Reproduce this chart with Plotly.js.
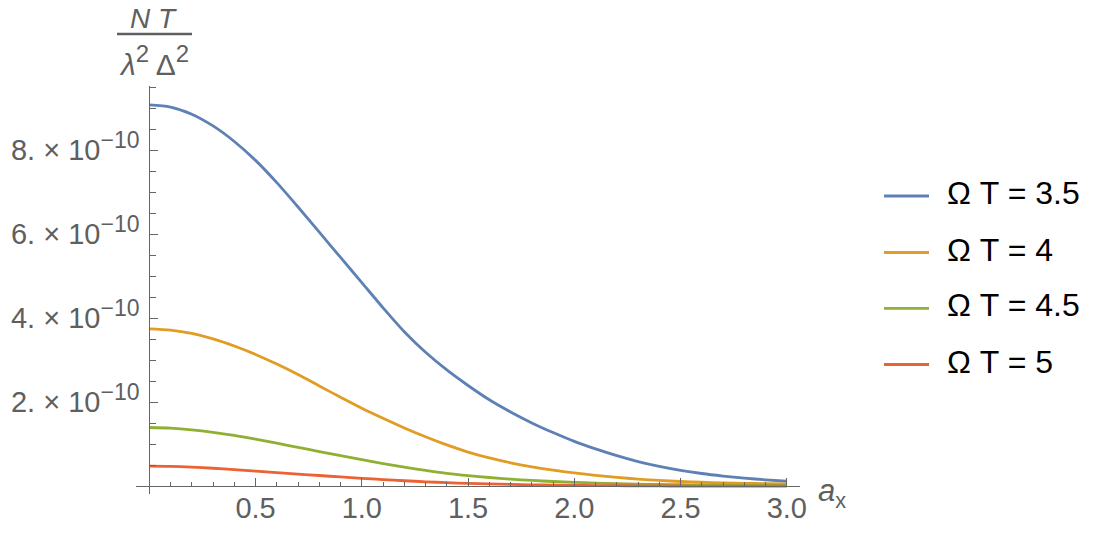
<!DOCTYPE html>
<html>
<head>
<meta charset="utf-8">
<script src="https://cdn.plot.ly/plotly-3.0.1.min.js"></script>
<style>
html,body{margin:0;padding:0;background:#fff;}
#chart{width:1095px;height:540px;}
</style>
</head>
<body>
<div id="chart"></div>
<script>
// ---- data ----
const ax = [0,0.1,0.2,0.3,0.4,0.5,0.6,0.7,0.8,0.9,1.0,1.1,1.2,1.3,1.4,1.5,1.6,1.7,1.8,1.9,2.0,2.1,2.2,2.3,2.4,2.5,2.6,2.7,2.8,2.9,3.0];

const NT_35 = [9.08e-10,9.03e-10,8.86e-10,8.58e-10,8.21e-10,7.76e-10,7.23e-10,6.65e-10,6.05e-10,5.45e-10,4.85e-10,4.25e-10,3.68e-10,3.19e-10,2.77e-10,2.40e-10,2.06e-10,1.77e-10,1.51e-10,1.28e-10,1.07e-10,0.89e-10,0.73e-10,0.59e-10,0.475e-10,0.38e-10,0.305e-10,0.245e-10,0.195e-10,0.155e-10,0.12e-10];
const NT_4  = [3.75e-10,3.72e-10,3.64e-10,3.51e-10,3.34e-10,3.14e-10,2.91e-10,2.66e-10,2.39e-10,2.12e-10,1.86e-10,1.62e-10,1.39e-10,1.18e-10,0.985e-10,0.815e-10,0.675e-10,0.56e-10,0.465e-10,0.385e-10,0.32e-10,0.262e-10,0.213e-10,0.172e-10,0.14e-10,0.115e-10,0.097e-10,0.083e-10,0.072e-10,0.063e-10,0.056e-10];
const NT_45 = [1.40e-10,1.385e-10,1.345e-10,1.285e-10,1.21e-10,1.122e-10,1.027e-10,0.927e-10,0.827e-10,0.729e-10,0.635e-10,0.54e-10,0.455e-10,0.38e-10,0.31e-10,0.255e-10,0.21e-10,0.17e-10,0.14e-10,0.115e-10,0.095e-10,0.078e-10,0.064e-10,0.053e-10,0.044e-10,0.037e-10,0.031e-10,0.026e-10,0.022e-10,0.019e-10,0.016e-10];
const NT_5  = [0.48e-10,0.475e-10,0.457e-10,0.43e-10,0.397e-10,0.362e-10,0.327e-10,0.292e-10,0.257e-10,0.223e-10,0.191e-10,0.161e-10,0.133e-10,0.108e-10,0.087e-10,0.07e-10,0.056e-10,0.045e-10,0.036e-10,0.029e-10,0.023e-10,0.018e-10,0.0145e-10,0.0115e-10,0.009e-10,0.007e-10,0.0055e-10,0.0045e-10,0.0035e-10,0.003e-10,0.0025e-10];

const seriesNames = ["\u03A9 T = 3.5","\u03A9 T = 4","\u03A9 T = 4.5","\u03A9 T = 5"];
const seriesColors = ["#5E81B5","#E19C24","#8FB032","#EB6235"];
const seriesValues = [NT_35, NT_4, NT_45, NT_5];

const xTickVals = [0.5,1.0,1.5,2.0,2.5,3.0];
const xTickText = ["0.5","1.0","1.5","2.0","2.5","3.0"];
const yTickVals = [2e-10,4e-10,6e-10,8e-10];
const yTickText = ["2.","4.","6.","8."].map(m => m + " \u00D7 10<sup><span style=\"font-size:23px\">\u221210</span></sup>");

// ---- layout geometry ----
const W = 1095, H = 540;
const L = 136, R = 295, T = 86, B = 46;
const xr = [-0.0626, 3.0621];
const yr = [-0.183e-10, 9.531e-10];
const pw = W - L - R, ph = H - T - B;
const px2paperX = p => (p - L) / pw;
const px2paperY = p => (H - B - p) / ph;

const grey = "#5f5f5f";
const axisGrey = "#666666";
const FONT = "Liberation Sans, Arial, sans-serif";

const traces = seriesValues.map((vals, i) => ({
  x: ax, y: vals, type: "scatter", mode: "lines",
  name: seriesNames[i],
  line: {color: seriesColors[i], width: 2.8, shape: "spline", smoothing: 0.8},
  showlegend: false, hoverinfo: "x+y+name"
}));

const shapes = [];
const annotations = [];

// manual legend
const legRowY = [196, 252.5, 308.3, 364.5];
seriesNames.forEach((nm, i) => {
  shapes.push({type: "line", xref: "paper", yref: "paper",
    x0: px2paperX(884), x1: px2paperX(929), y0: px2paperY(legRowY[i]), y1: px2paperY(legRowY[i]),
    line: {color: seriesColors[i], width: 2.8}});
  annotations.push({xref: "paper", yref: "paper", x: px2paperX(945), y: px2paperY(legRowY[i] - 3),
    xanchor: "left", yanchor: "middle", showarrow: false, text: nm,
    font: {family: FONT, size: 32, color: "#000"}});
});

// y-axis title as fraction
annotations.push({xref: "paper", yref: "paper", x: px2paperX(153), y: px2paperY(19),
  xanchor: "center", yanchor: "middle", showarrow: false, text: "<i>N T</i>",
  font: {family: FONT, size: 28, color: grey}});
shapes.push({type: "line", xref: "paper", yref: "paper",
  x0: px2paperX(117), x1: px2paperX(192), y0: px2paperY(34), y1: px2paperY(34),
  line: {color: grey, width: 2.5}});
annotations.push({xref: "paper", yref: "paper", x: px2paperX(154), y: px2paperY(60),
  xanchor: "center", yanchor: "middle", showarrow: false,
  text: "<i>\u03BB</i><sup><span style=\"font-size:24px\">2</span></sup> \u0394<sup><span style=\"font-size:24px\">2</span></sup>",
  font: {family: FONT, size: 30, color: grey}});

// x-axis title
annotations.push({xref: "paper", yref: "paper", x: px2paperX(816), y: px2paperY(493),
  xanchor: "left", yanchor: "middle", showarrow: false, text: "<i>a</i><sub>x</sub>",
  font: {family: FONT, size: 31, color: grey}});

const layout = {
  width: W, height: H,
  margin: {l: L, r: R, t: T, b: B, pad: 0},
  paper_bgcolor: "#fff", plot_bgcolor: "#fff",
  showlegend: false,
  font: {family: FONT, color: grey},
  xaxis: {
    range: xr, anchor: "free", position: (0 - yr[0]) / (yr[1] - yr[0]),
    showgrid: false, zeroline: false,
    showline: true, linecolor: axisGrey, linewidth: 1,
    tickmode: "array", tickvals: xTickVals, ticktext: xTickText,
    ticks: "inside", ticklen: 8, tickwidth: 1, tickcolor: axisGrey,
    tickfont: {family: FONT, size: 29, color: grey},
    ticklabelstandoff: -4,
    minor: {tickmode: "linear", tick0: 0, dtick: 0.1, ticks: "inside", ticklen: 4.5, tickwidth: 1, tickcolor: axisGrey, showgrid: false}
  },
  yaxis: {
    range: yr, anchor: "free", position: (0 - xr[0]) / (xr[1] - xr[0]),
    showgrid: false, zeroline: false,
    showline: true, linecolor: axisGrey, linewidth: 1,
    tickmode: "array", tickvals: yTickVals, ticktext: yTickText,
    ticks: "inside", ticklen: 8, tickwidth: 1, tickcolor: axisGrey,
    tickfont: {family: FONT, size: 29, color: grey},
    ticklabelstandoff: 4,
    minor: {tickmode: "linear", tick0: 0, dtick: 0.5e-10, ticks: "inside", ticklen: 5.5, tickwidth: 1, tickcolor: axisGrey, showgrid: false}
  },
  shapes: shapes,
  annotations: annotations
};

Plotly.newPlot("chart", traces, layout, {displayModeBar: false, staticPlot: true});
</script>
</body>
</html>
